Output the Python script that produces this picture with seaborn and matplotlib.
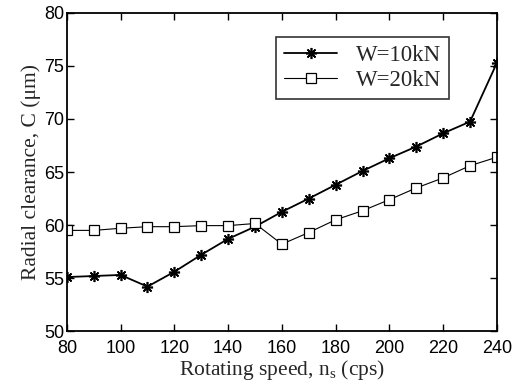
import matplotlib
matplotlib.use("Agg")
import matplotlib.pyplot as plt
import seaborn as sns
import pandas as pd

speed = [80, 90, 100, 110, 120, 130, 140, 150, 160, 170, 180, 190, 200, 210, 220, 230, 240]
w10 = [55.1, 55.2, 55.3, 54.2, 55.6, 57.2, 58.7, 59.85, 61.25, 62.5, 63.8, 65.1, 66.3, 67.4, 68.65, 69.75, 75.3]
w20 = [59.5, 59.5, 59.7, 59.85, 59.85, 59.95, 59.95, 60.15, 58.2, 59.3, 60.5, 61.35, 62.4, 63.5, 64.45, 65.6, 66.4]
labels = ["W=10kN", "W=20kN"]
xticks = [80, 100, 120, 140, 160, 180, 200, 220, 240]
yticks = [50, 55, 60, 65, 70, 75, 80]

sns.set_style("white")
plt.rcParams['font.family'] = ['Liberation Serif', 'DejaVu Serif']

df = pd.DataFrame({
    "speed": speed * 2,
    "C": w10 + w20,
    "W": [labels[0]] * len(speed) + [labels[1]] * len(speed),
})

fig = plt.figure(figsize=(5.22, 3.91), dpi=100)
ax = fig.add_axes([0.128, 0.153, 0.824, 0.814])

sns.lineplot(data=df[df.W == labels[0]], x="speed", y="C", ax=ax, color="black",
             linewidth=1.3, marker=(8, 2, 0), markersize=8, markeredgewidth=1.2,
             markeredgecolor="black", label=labels[0])
sns.lineplot(data=df[df.W == labels[1]], x="speed", y="C", ax=ax, color="black",
             linewidth=0.8, marker="s", markersize=7, markerfacecolor="white",
             markeredgecolor="black", markeredgewidth=0.9, label=labels[1])

ax.set_xlim(80, 240)
ax.set_ylim(50, 80)
ax.set_xticks(xticks)
ax.set_yticks(yticks)
for lab in ax.get_xticklabels() + ax.get_yticklabels():
    lab.set_fontfamily(['Liberation Sans', 'DejaVu Sans'])
    lab.set_fontsize(13)
ax.tick_params(direction="in", length=5, width=1, top=True, right=True,
               bottom=True, left=True, colors="black")
ax.tick_params(axis="x", pad=6)
ax.tick_params(axis="y", pad=2)
for s in ax.spines.values():
    s.set_color("black")
    s.set_linewidth(1.3)

ax.set_xlabel(r"Rotating speed, n$_{\mathregular{s}}$ (cps)", fontsize=15.5, labelpad=1)
ax.set_ylabel("Radial clearance, C (\u03bcm)", fontsize=15.5, labelpad=2)

leg = ax.legend(loc="upper right", bbox_to_anchor=(0.915, 0.96), fontsize=16.5,
                frameon=True, fancybox=False, edgecolor="black", handlelength=2.3,
                borderpad=0.35, labelspacing=0.15, handletextpad=0.8)
leg.get_frame().set_linewidth(1.2)

fig.savefig("out.png", dpi=100)
